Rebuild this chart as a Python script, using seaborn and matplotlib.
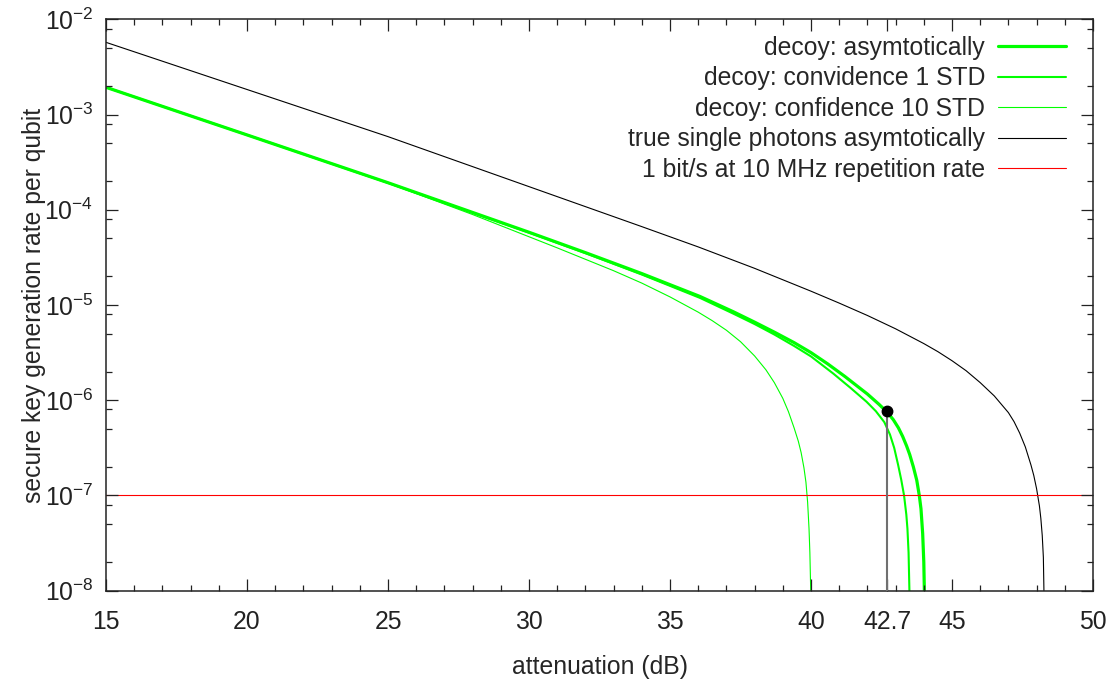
import numpy as np
import pandas as pd
import matplotlib
matplotlib.use("Agg")
import matplotlib.pyplot as plt
import seaborn as sns
from matplotlib.ticker import FixedLocator, NullFormatter

# ---------------- data (y given as log10 of the rate) ----------------
# decoy: asymptotically (thick green)
asym_x = [15.0, 20.0, 25.0, 30.0, 32.0, 34.0, 36.06, 37.24, 38.0, 38.7, 39.4, 40.0, 40.6,
          41.2, 41.74, 42.0, 42.4, 42.7, 42.92, 43.1, 43.25, 43.39, 43.5, 43.63, 43.75,
          43.84, 43.9, 43.96, 44.0, 44.02]
asym_log = [-2.714, -3.214, -3.716, -4.236, -4.45, -4.67, -4.91, -5.07, -5.18, -5.285,
            -5.395, -5.5, -5.62, -5.75, -5.875, -5.935, -6.04, -6.125, -6.205, -6.29,
            -6.38, -6.48, -6.57, -6.70, -6.84, -7.0, -7.14, -7.4, -7.7, -8.0]

# decoy: confidence 1 STD (medium green)
std1_x = [15.0, 20.0, 25.0, 30.0, 32.0, 34.0, 36.06, 37.24, 38.0, 38.7, 39.4, 40.0, 40.79,
          41.4, 41.97, 42.3, 42.6, 42.8, 42.95, 43.09, 43.2, 43.30, 43.38, 43.42, 43.46, 43.49]
std1_log = [-2.714, -3.214, -3.718, -4.24, -4.455, -4.68, -4.925, -5.09, -5.2, -5.31,
            -5.43, -5.54, -5.72, -5.87, -6.016, -6.115, -6.23, -6.36, -6.5, -6.68, -6.835,
            -7.0, -7.2, -7.35, -7.6, -8.0]

# decoy: confidence 10 STD (thin green)
std10_x = [15.0, 20.0, 25.0, 28.0, 31.0, 33.0, 34.0, 35.0, 36.0, 36.5, 37.0, 37.5, 38.0,
           38.4, 38.7, 39.0, 39.2, 39.4, 39.55, 39.65, 39.75, 39.82, 39.88, 39.93, 39.96, 39.99]
std10_log = [-2.714, -3.214, -3.72, -4.05, -4.40, -4.64, -4.77, -4.915, -5.075, -5.165,
             -5.265, -5.385, -5.535, -5.68, -5.815, -5.98, -6.12, -6.29, -6.43, -6.55,
             -6.71, -6.86, -7.07, -7.35, -7.6, -8.0]

# true single photons asymptotically (black)
single_x = [15.0, 20.0, 25.0, 30.0, 34.0, 36.0, 38.0, 40.0, 41.0, 42.0, 43.0, 44.0, 44.5,
            45.0, 45.5, 46.0, 46.5, 47.0, 47.2, 47.4, 47.6, 47.8, 47.9, 48.0, 48.1, 48.15,
            48.2, 48.24, 48.26]
single_log = [-2.242, -2.737, -3.232, -3.757, -4.177, -4.39, -4.615, -4.855, -4.98, -5.11,
              -5.25, -5.405, -5.49, -5.585, -5.69, -5.815, -5.955, -6.13, -6.225, -6.345,
              -6.49, -6.68, -6.79, -6.93, -7.11, -7.24, -7.42, -7.65, -8.0]

# 1 bit/s at 10 MHz repetition rate
threshold = 1e-7

# marked point
mark_x = 42.7
mark_y = 7.8e-7

labels = ["decoy: asymtotically", "decoy: convidence 1 STD", "decoy: confidence 10 STD",
          "true single photons asymtotically", "1 bit/s at 10 MHz repetition rate"]

x_major = [15, 20, 25, 30, 35, 40, 42.7, 45, 50]
x_major_labels = ["15", "20", "25", "30", "35", "40", "42.7", "45", "50"]
y_exponents = [-8, -7, -6, -5, -4, -3, -2]

# ---------------- style ----------------
sns.set_theme(style="ticks")
plt.rcParams["font.family"] = ["Liberation Sans", "DejaVu Sans"]
plt.rcParams["mathtext.fontset"] = "custom"
plt.rcParams["mathtext.rm"] = "Liberation Sans"
plt.rcParams["mathtext.default"] = "regular"
plt.rcParams.update({
    "axes.axisbelow": False,
    "xtick.direction": "in", "ytick.direction": "in",
    "xtick.top": True, "ytick.right": True,
    "xtick.major.size": 8.6, "ytick.major.size": 8.6,
    "xtick.minor.size": 4.3, "ytick.minor.size": 4.3,
    "xtick.major.width": 0.9, "ytick.major.width": 0.9,
    "xtick.minor.width": 0.9, "ytick.minor.width": 0.9,
    "xtick.color": "#222222", "ytick.color": "#222222",
})

FS = 17.8
fig = plt.figure(figsize=(11.17, 6.82), dpi=100)
ax = fig.add_axes([106 / 1117, 1 - 590.7 / 682, (1093 - 106) / 1117, (590.7 - 19.3) / 682])

GREEN = "#00ff00"
df_asym = pd.DataFrame({"x": asym_x, "y": 10.0 ** np.array(asym_log)})
df_std1 = pd.DataFrame({"x": std1_x, "y": 10.0 ** np.array(std1_log)})
df_std10 = pd.DataFrame({"x": std10_x, "y": 10.0 ** np.array(std10_log)})
df_single = pd.DataFrame({"x": single_x, "y": 10.0 ** np.array(single_log)})

sns.lineplot(data=df_asym, x="x", y="y", ax=ax, color=GREEN, lw=2.3, label=labels[0],
             estimator=None, sort=False)
sns.lineplot(data=df_std1, x="x", y="y", ax=ax, color=GREEN, lw=1.5, label=labels[1],
             estimator=None, sort=False)
sns.lineplot(data=df_std10, x="x", y="y", ax=ax, color=GREEN, lw=0.8, label=labels[2],
             estimator=None, sort=False)
sns.lineplot(data=df_single, x="x", y="y", ax=ax, color="black", lw=0.8, label=labels[3],
             estimator=None, sort=False)
ax.axhline(threshold, color="#ff0000", lw=0.8, label=labels[4])

ax.vlines(mark_x, 1e-8, mark_y, color="#707070", lw=1.5, zorder=4)
ax.plot([mark_x], [mark_y], "o", color="black", ms=7.5, zorder=5)

ax.set_yscale("log")
ax.set_xlim(15, 50)
ax.set_ylim(1e-8, 1e-2)

ax.xaxis.set_major_locator(FixedLocator(x_major))
ax.set_xticklabels(x_major_labels)
ax.xaxis.set_minor_locator(FixedLocator([v for v in range(16, 50)]))
ax.yaxis.set_major_locator(FixedLocator([10.0 ** e for e in y_exponents]))
ax.set_yticklabels([r"$10^{%d}$" % e for e in y_exponents])
minors = []
for e in y_exponents[:-1]:
    for m in (2, 5, 8):
        minors.append(m * 10.0 ** e)
ax.yaxis.set_minor_locator(FixedLocator(minors))
ax.yaxis.set_minor_formatter(NullFormatter())
ax.xaxis.set_minor_formatter(NullFormatter())

ax.set_axisbelow(False)
ax.tick_params(which="both", direction="in", top=True, right=True, bottom=True, left=True,
               color="#222222", labelsize=FS, width=0.9)
ax.tick_params(which="major", length=8.6)
ax.tick_params(which="minor", length=4.3)
ax.tick_params(axis="x", which="major", pad=14)
ax.tick_params(axis="y", which="major", pad=9)
for s in ax.spines.values():
    s.set_linewidth(1.1)
    s.set_color("#222222")

ax.set_xlabel("attenuation (dB)", fontsize=FS, labelpad=15)
ax.set_ylabel("secure key generation rate per qubit", fontsize=FS, labelpad=-1)

leg = ax.legend(loc="upper right", bbox_to_anchor=(1066 / 1117, 1 - 36 / 682),
                bbox_transform=fig.transFigure, frameon=False, markerfirst=False,
                fontsize=FS, handlelength=2.75, handletextpad=0.53, labelspacing=0.26,
                borderaxespad=0, borderpad=0)

fig.canvas.draw()
fig.savefig("out.png", dpi=100)
